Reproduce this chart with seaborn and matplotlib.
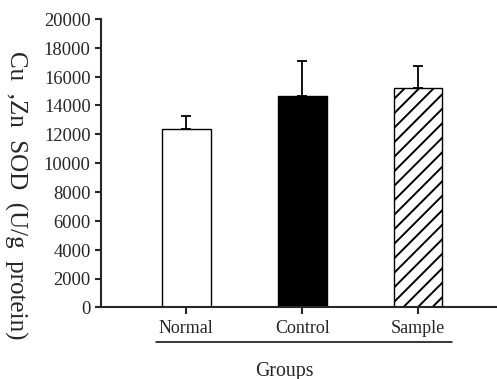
import matplotlib
matplotlib.use("Agg")
import matplotlib.pyplot as plt
import seaborn as sns
import numpy as np

# Cu,Zn SOD activity per group (mean and upper SD)
groups = ["Normal", "Control", "Sample"]
sod_mean = [12370, 14630, 15180]
sod_sd = [870, 2480, 1530]
bar_colors = ["white", "black", "white"]
y_ticks = [0, 2000, 4000, 6000, 8000, 10000, 12000, 14000, 16000, 18000, 20000]

DPI = 87
S = 100 / DPI  # keeps point sizes at their 100-dpi pixel size

sns.set_style("ticks")
plt.rcParams["font.family"] = ["Liberation Serif", "DejaVu Serif"]
plt.rcParams["hatch.color"] = "black"
plt.rcParams["hatch.linewidth"] = 1.4 * S

W, H = 497, 379
fig = plt.figure(figsize=((W + 0.4) / DPI, (H + 0.4) / DPI), dpi=DPI)
ax = fig.add_axes([101 / W, 1 - 307.5 / H, 395.5 / W, 288.2 / H])

sns.barplot(x=groups, y=sod_mean, hue=groups, palette=bar_colors,
            edgecolor="black", linewidth=1.0 * S, width=0.42, legend=False,
            saturation=1, ax=ax)
ax.patches[2].set_hatch("//")

ax.errorbar(x=np.arange(len(groups)), y=sod_mean,
            yerr=[np.zeros(len(groups)), sod_sd], fmt="none",
            ecolor="black", elinewidth=1.3 * S, capsize=3.5 * S,
            capthick=1.3 * S, zorder=1)

ax.set_ylim(0, 20000)
ax.set_xlim(-0.736, 2.681)
ax.set_yticks(y_ticks)
ax.set_yticklabels([str(t) for t in y_ticks])
ax.set_xlabel("")
ax.set_ylabel("")
sns.despine(ax=ax)
for side in ("left", "bottom"):
    ax.spines[side].set_linewidth(1.5 * S)
ax.tick_params(axis="y", length=4 * S, width=1.5 * S, pad=3.5 * S,
               labelsize=13.3 * S)
ax.tick_params(axis="x", length=5 * S, width=1.5 * S, pad=4 * S,
               labelsize=13 * S)

# bracket line under the group names
ax.plot([-0.261, 2.296], [-0.1214, -0.1214], color="black", lw=1.1 * S,
        transform=ax.get_xaxis_transform(), clip_on=False)

# y title reads top to bottom
fig.text(16 / W, 1 - 195 / H, "Cu  ,Zn  SOD  (U/g  protein)", rotation=-90,
         ha="center", va="center", fontsize=18 * S)
fig.text(284 / W, 1 - 376 / H, "Groups", ha="center", va="baseline",
         fontsize=14.3 * S)

fig.savefig("out.png", dpi=DPI)
